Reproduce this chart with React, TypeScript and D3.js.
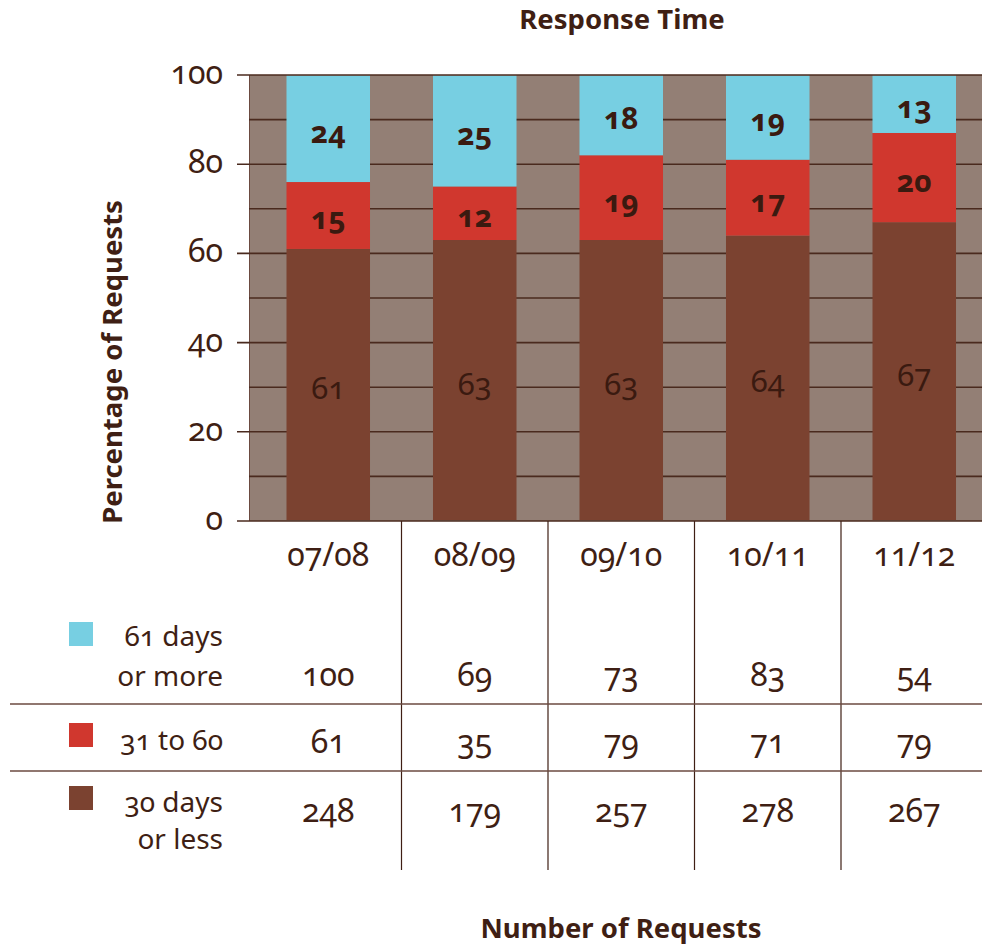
import React, {useEffect, useRef} from "react";
import * as d3 from 'd3';

const years = ["07/08", "08/09", "09/10", "10/11", "11/12"];
const pctLess30 = [61, 63, 63, 64, 67];
const pct31to60 = [15, 12, 19, 17, 20];
const pct61plus = [24, 25, 18, 19, 13];
const countLess30 = [248, 179, 257, 278, 267];
const count31to60 = [61, 35, 79, 71, 79];
const count61plus = [100, 69, 73, 83, 54];
const yTicks = [0, 20, 40, 60, 80, 100];

const FONT = "'Noto Sans', 'Open Sans', sans-serif";
const TEXT = "#3f1f14";

const App: React.FC = () => {
    const svgRef = useRef<SVGSVGElement | null>(null);

    useEffect(() => {
        if (!svgRef.current) return;
        const svg = d3.select(svgRef.current);
        svg.selectAll("*").remove();
        svg.style("font-family", FONT).style("font-feature-settings", "'onum'");

        const x = d3.scaleBand<string>()
            .domain(years)
            .range([255, 987.5])
            .paddingInner(0.43)
            .paddingOuter(0.215);
        const step = x.step();
        const cx = (d: string) => x(d)! + x.bandwidth() / 2;

        const y = d3.scaleLinear().domain([0, 100]).range([521, 75]);

        // plot background
        svg.append("rect")
            .attr("x", 249).attr("y", y(100))
            .attr("width", 982 - 249).attr("height", y(0) - y(100))
            .attr("fill", "#937f75");
        svg.append("line")
            .attr("x1", 249.5).attr("x2", 249.5)
            .attr("y1", y(100)).attr("y2", y(0))
            .attr("stroke", "#6b4a40")
            .attr("stroke-width", 1);

        // gridlines every 10
        svg.append("g")
            .selectAll("line")
            .data(d3.range(0, 101, 10))
            .enter()
            .append("line")
            .attr("x1", d => d % 20 === 0 ? 237 : 249)
            .attr("x2", 982)
            .attr("y1", d => y(d))
            .attr("y2", d => y(d))
            .attr("stroke", "#4a2a1e")
            .attr("stroke-width", 1.6);

        const series = [
            {key: "less30", vals: pctLess30, color: "#7b4230", weight: 400, size: 31},
            {key: "31to60", vals: pct31to60, color: "#d0372e", weight: 700, size: 30},
            {key: "61plus", vals: pct61plus, color: "#77cfe2", weight: 700, size: 30},
        ];

        years.forEach((yr, i) => {
            let base = 0;
            series.forEach(s => {
                const v = s.vals[i];
                const top = base + v;
                svg.append("rect")
                    .attr("x", x(yr)!)
                    .attr("y", y(Math.min(top, 99.8)))
                    .attr("width", x.bandwidth())
                    .attr("height", y(base) - y(Math.min(top, 99.8)) - (base === 0 ? 1 : 0))
                    .attr("fill", s.color);
                svg.append("text")
                    .attr("x", cx(yr))
                    .attr("y", (y(base) + y(top)) / 2 + 14)
                    .attr("text-anchor", "middle")
                    .attr("fill", "#3a1a10")
                    .style("font-size", `${s.size}px`)
                    .style("font-weight", s.weight)
                    .text(v);
                base = top;
            });
        });

        // y tick labels
        svg.append("g")
            .selectAll("text")
            .data(yTicks)
            .enter()
            .append("text")
            .attr("x", 223)
            .attr("y", d => y(d) + 9)
            .attr("text-anchor", "end")
            .attr("fill", TEXT)
            .style("font-size", "32px")
            .text(d => d);

        // titles
        svg.append("text")
            .attr("x", 622).attr("y", 29)
            .attr("text-anchor", "middle")
            .attr("fill", TEXT)
            .style("font-size", "27.5px").style("font-weight", 700)
            .text("Response Time");
        svg.append("text")
            .attr("transform", `translate(122,362) rotate(-90)`)
            .attr("text-anchor", "middle")
            .attr("fill", TEXT)
            .style("font-size", "27.5px").style("font-weight", 700)
            .text("Percentage of Requests");
        svg.append("text")
            .attr("x", 621).attr("y", 938)
            .attr("text-anchor", "middle")
            .attr("fill", TEXT)
            .style("font-size", "27.5px").style("font-weight", 700)
            .text("Number of Requests");

        // category labels
        svg.append("g")
            .selectAll("text")
            .data(years)
            .enter()
            .append("text")
            .attr("x", d => cx(d))
            .attr("y", 566)
            .attr("text-anchor", "middle")
            .attr("fill", TEXT)
            .style("font-size", "32px")
            .text(d => d);

        // table lines
        svg.append("g")
            .selectAll("line")
            .data(years.slice(1))
            .enter()
            .append("line")
            .attr("x1", d => cx(d) - step / 2)
            .attr("x2", d => cx(d) - step / 2)
            .attr("y1", y(0))
            .attr("y2", 870)
            .attr("stroke", "#3f1f14")
            .attr("stroke-width", 1.2);
        [704, 771].forEach(ly => {
            svg.append("line")
                .attr("x1", 10).attr("x2", 982)
                .attr("y1", ly).attr("y2", ly)
                .attr("stroke", "#6b4a40")
                .attr("stroke-width", 1.4);
        });

        const rows = [
            {vals: count61plus, color: "#77cfe2", legend: ["61 days", "or more"], sqY: 622, textY: [646, 686], valY: 686},
            {vals: count31to60, color: "#d0372e", legend: ["31 to 60"], sqY: 723, textY: [750], valY: 753},
            {vals: countLess30, color: "#7b4230", legend: ["30 days", "or less"], sqY: 786, textY: [812, 849], valY: 822},
        ];
        rows.forEach(r => {
            svg.append("rect")
                .attr("x", 69).attr("y", r.sqY)
                .attr("width", 24).attr("height", 24)
                .attr("fill", r.color);
            r.legend.forEach((t, j) => {
                svg.append("text")
                    .attr("x", 223).attr("y", r.textY[j])
                    .attr("text-anchor", "end")
                    .attr("fill", TEXT)
                    .style("font-size", "28px")
                    .text(t);
            });
            svg.append("g")
                .selectAll("text")
                .data(years)
                .enter()
                .append("text")
                .attr("x", d => cx(d))
                .attr("y", r.valY)
                .attr("text-anchor", "middle")
                .attr("fill", TEXT)
                .style("font-size", "32px")
                .text((d, i) => r.vals[i]);
        });
    }, []);

    return (
        <svg ref={svgRef} width={982} height={948} style={{position: "absolute", left: 0, top: 0}}></svg>
    );
}

export default App;
